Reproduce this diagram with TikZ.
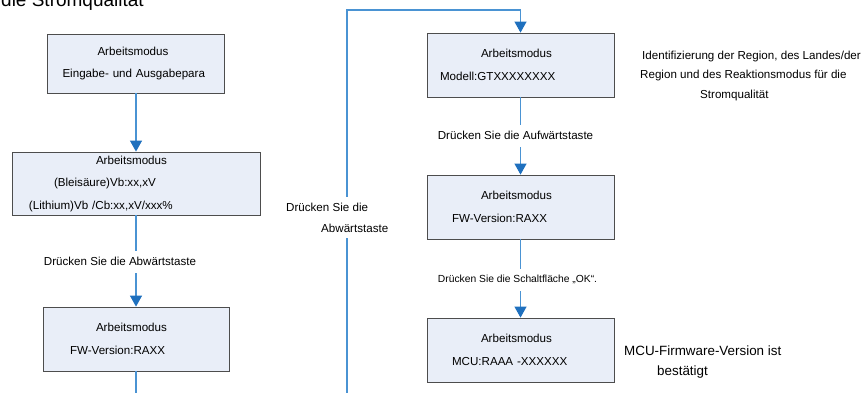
\documentclass[tikz,border=0pt]{standalone}
\usepackage{fontspec}
\setmainfont{Liberation Sans}
\usetikzlibrary{arrows.meta}

\definecolor{boxfill}{HTML}{E9EEF8}
\definecolor{boxline}{HTML}{4D4D4D}
\definecolor{flowline}{HTML}{4A93D3}
\definecolor{flowtip}{HTML}{1F70BE}

\tikzset{
  modebox/.style 2 args={draw=boxline, fill=boxfill, line width=0.8pt, inner sep=0pt,
    minimum width=#1, text width=#1, minimum height=#2, align=left,
    font=\fontsize{11.6}{22.5}\selectfont},
  flow/.style={draw=flowline, line width=1.1pt},
  flowarrow/.style={flow, -{Triangle[length=11pt,width=12pt,color=flowtip]}},
  keytext/.style={font=\fontsize{11.6}{14}\selectfont, inner xsep=1pt, inner ysep=5.5pt,
    text height=8.5pt, text depth=2.5pt},
  note/.style={align=left, inner sep=0pt, anchor=north west}
}
\newcommand\indentby[1]{\hspace*{#1pt}}

\begin{document}
\begin{tikzpicture}[x=1pt, y=-1pt]
  \clip (0,0) rectangle (866,392);

  % left column
  \node[modebox={177pt}{59pt}] (eingabe) at (136,63.5)
    {\indentby{50}Arbeitsmodus\\\indentby{15}Eingabe- und Ausgabepara};
  \node[modebox={248pt}{63pt}] (batterie) at (136,183.5)
    {\indentby{84}Arbeitsmodus\\\indentby{42}(Bleisäure)Vb:xx,xV\\\indentby{17}(Lithium)Vb /Cb:xx,xV/xxx\%};
  \node[modebox={186pt}{64pt}] (fwleft) at (136,339)
    {\indentby{53}Arbeitsmodus\\\indentby{27}FW-Version:RAXX};
  \node[keytext] (abw) at (120,262) {Drücken Sie die Abwärtstaste};

  % right column
  \node[modebox={187pt}{64pt}] (modell) at (520.5,65)
    {\indentby{54}Arbeitsmodus\\\indentby{13}Modell:GTXXXXXXXX};
  \node[modebox={187pt}{64pt}] (fwright) at (520.5,207)
    {\indentby{54}Arbeitsmodus\\\indentby{25}FW-Version:RAXX};
  \node[modebox={187pt}{64pt}] (mcu) at (520.5,350)
    {\indentby{54}Arbeitsmodus\\\indentby{25}MCU:RAAA -XXXXXX};
  \node[keytext] (auf) at (515.5,136) {Drücken Sie die Aufwärtstaste};
  \node[keytext, font=\fontsize{10.3}{12}\selectfont, text height=7.5pt, text depth=2.2pt,
    inner ysep=6pt] (ok) at (517.5,280) {Drücken Sie die Schaltfläche „OK“.};

  % loop back to the top
  \node[note, inner xsep=2pt, inner ysep=6pt, font=\fontsize{11.6}{21}\selectfont] (abwmid)
    at (284,196.5) {Drücken Sie die\\\indentby{35}Abwärtstaste};
  \coordinate (loopfoot) at (347,400);
  \coordinate (looptop) at (347,10);
  \coordinate (leftfoot) at (136,400);

  % side notes
  \node[note, font=\fontsize{11.6}{19.5}\selectfont] (region) at (640,50.5)
    {\indentby{2}Identifizierung der Region, des Landes/der\\Region und des Reaktionsmodus für die\\\indentby{60}Stromqualität};
  \node[note, font=\fontsize{13.4}{20}\selectfont] (mcunote) at (624,345.3)
    {MCU-Firmware-Version ist\\\indentby{33}bestätigt};
  \node[anchor=base west, inner sep=0pt, font=\fontsize{19}{22}\selectfont] (oben) at (1,6)
    {die Stromqualität};

  % connectors
  \draw[flowarrow] (eingabe) -- (batterie);
  \draw[flow] (batterie) -- (batterie |- abw.north);
  \draw[flowarrow] (batterie |- abw.south) -- (fwleft);
  \draw[flow] (fwleft) -- (leftfoot);

  \draw[flow] (modell) -- (modell |- auf.north);
  \draw[flowarrow] (modell |- auf.south) -- (fwright);
  \draw[flow] (fwright) -- (fwright |- ok.north);
  \draw[flowarrow] (fwright |- ok.south) -- (mcu);

  \draw[flow] (loopfoot) -- (loopfoot |- abwmid.south);
  \draw[flowarrow] (loopfoot |- abwmid.north) -- (looptop) -| (modell);
\end{tikzpicture}
\end{document}
